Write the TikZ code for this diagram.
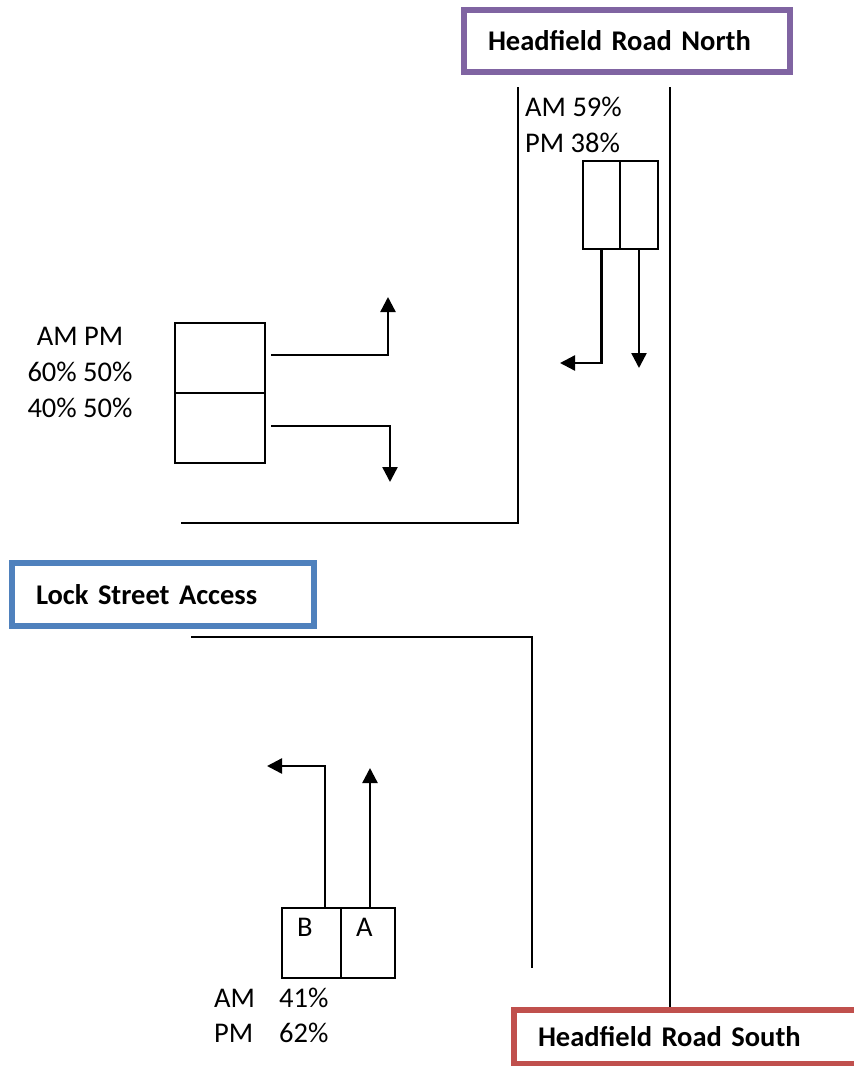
\documentclass[tikz,border=0pt]{standalone}
\usepackage{fontspec}
\setmainfont{Carlito}
\usetikzlibrary{arrows.meta}
\definecolor{titlepurple}{HTML}{8064A2}
\definecolor{titleblue}{HTML}{4F81BD}
\definecolor{titlered}{HTML}{C0504D}
\newcommand\labelsize{\fontsize{28.5}{36}\selectfont}
\tikzset{
  road/.style={line width=2pt},
  cell/.style={draw,line width=2pt,inner sep=0pt},
  flow/.style={->,line width=2.4pt},
  txt/.style={inner sep=0pt,anchor=base west},
  title/.style={draw,line width=6pt,inner xsep=24pt,inner ysep=0pt,align=left,font=\labelsize\bfseries}
}
\begin{document}
\begin{tikzpicture}[x=1pt,y=-1pt,>={Triangle[length=15pt,width=15pt]},font=\labelsize]
\clip (0,0) rectangle (854,1066);
% street names
\node[title,draw=titlepurple,text width=278pt,minimum height=61.5pt] (north) at (627,40.75) {Headfield Road North};
\node[title,draw=titleblue,text width=254pt,minimum height=63pt] (lock) at (163,594.5) {Lock Street Access};
\node[title,draw=titlered,text width=600pt,minimum height=54pt] (south) at (838,1037) {Headfield Road South};
% kerb lines
\draw[road] (518,87) -- (518,523) -- (181,523);
\draw[road] (670,87) -- (670,1007);
\draw[road] (191,637) -- (532,637) -- (532,968);
% Headfield Road North approach
\node[txt] (namnorth) at (525,116) {AM 59\%};
\node[txt] (npmnorth) at (525,152) {PM 38\%};
\node[cell,minimum width=37pt,minimum height=88pt] (nl) at (601.5,205) {};
\node[cell,minimum width=38pt,minimum height=88pt] (nr) at (639,205) {};
\coordinate (nlend) at (560,363);
\coordinate (nrend) at (639,368);
\draw[flow] (nl.south) |- (nlend);
\draw[flow] (nr.south) -- (nrend);
% Lock Street approach
\node[inner sep=0pt,align=center] (lockpct) at (80,372) {AM PM\\60\% 50\%\\40\% 50\%};
\node[cell,minimum width=90pt,minimum height=70pt] (lu) at (220,358) {};
\node[cell,minimum width=90pt,minimum height=70pt] (ll) at (220,428) {};
\coordinate (luend) at (388,297);
\coordinate (llend) at (390,482);
\draw[flow] ([xshift=5pt,yshift=3pt]lu.east) -| (luend);
\draw[flow] ([xshift=5pt,yshift=2pt]ll.east) -| (llend);
% Headfield Road South approach
\node[cell,minimum width=59pt,minimum height=70pt] (cb) at (311.5,943) {};
\node[cell,minimum width=54pt,minimum height=70pt] (ca) at (368,943) {};
\node[txt] (blabel) at (297,936) {B};
\node[txt] (alabel) at (356,936) {A};
\coordinate (cbend) at (267,766);
\coordinate (caend) at (370,768);
\draw[flow] ([xshift=13.5pt]cb.north) |- (cbend);
\draw[flow] ([xshift=2pt]ca.north) -- (caend);
\node[txt] (amsouth) at (214,1007) {AM};
\node[txt] (amsouthval) at (279,1007) {41\%};
\node[txt] (pmsouth) at (214,1042) {PM};
\node[txt] (pmsouthval) at (279,1042) {62\%};
\end{tikzpicture}
\end{document}
